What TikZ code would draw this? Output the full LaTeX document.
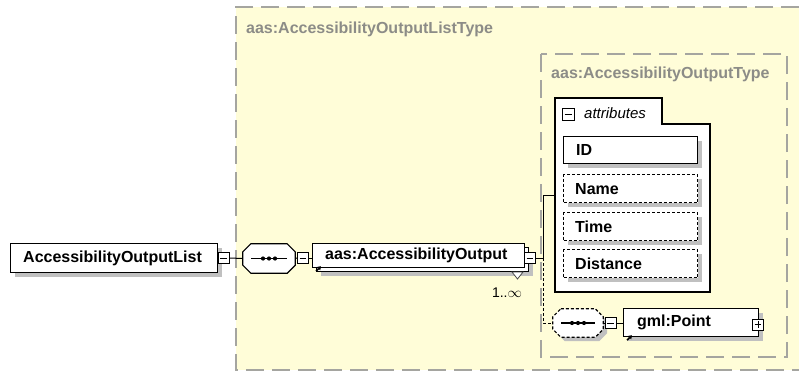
\documentclass[tikz,border=0pt]{standalone}
\usepackage{fontspec}
\setmainfont{Liberation Sans}
\usetikzlibrary{arrows.meta,shadows}

\definecolor{paper}{RGB}{255,253,216}
\definecolor{framegray}{RGB}{165,165,160}
\definecolor{labelgray}{RGB}{140,140,135}
\definecolor{shadowgray}{RGB}{192,192,192}

% octagonal outline of a compositor node (#1 = node name, #2 = path options)
\newcommand\compositoroutline[2]{%
  \path[#2] ([xshift=8pt]#1.north west) -- ([xshift=-8pt]#1.north east)
    -- ([yshift=-8pt]#1.north east) -- ([yshift=8pt]#1.south east)
    -- ([xshift=-8pt]#1.south east) -- ([xshift=8pt]#1.south west)
    -- ([yshift=8pt]#1.south west) -- ([yshift=-8pt]#1.north west) -- cycle;}
% sequence symbol: a line with three dots
\newcommand\sequencemark[2]{%
  \draw[line width=1.2pt] ([xshift=-#2]#1.center) -- ([xshift=#2]#1.center);
  \foreach \d in {-6,0,6} \fill ([xshift=\d pt]#1.center) circle (2.1pt);}

\begin{document}
\begin{tikzpicture}[x=1pt,y=-1pt,
  typeframe/.style={draw=framegray, line width=1.6pt, dash pattern=on 18pt off 8pt},
  typelabel/.style={anchor=west, inner sep=0pt, text=labelgray,
    font=\bfseries\fontsize{16}{19}\selectfont},
  shadowed/.style={drop shadow={shadow xshift=4pt, shadow yshift=-4pt,
    fill=shadowgray, opacity=1}},
  ebox/.style={draw=black, line width=1.2pt, fill=white, anchor=north west,
    inner sep=0pt, rectangle},
  optbox/.style={ebox, dash pattern=on 3pt off 2pt},
  etext/.style={anchor=west, inner sep=0pt, font=\bfseries\fontsize{16}{19}\selectfont},
  toggle/.style={draw=black, line width=0.9pt, fill=white, minimum size=11pt,
    inner sep=0pt, rectangle},
  minus/.style={toggle, path picture={\draw[line width=0.9pt]
    ([xshift=2.2pt]path picture bounding box.west) --
    ([xshift=-2.2pt]path picture bounding box.east);}},
  plus/.style={toggle, path picture={\draw[line width=0.9pt]
    ([xshift=2.2pt]path picture bounding box.west) --
    ([xshift=-2.2pt]path picture bounding box.east)
    ([yshift=2.2pt]path picture bounding box.south) --
    ([yshift=-2.2pt]path picture bounding box.north);}},
  compositor/.style={rectangle, inner sep=0pt},
  wire/.style={draw=black, line width=1pt},
  refarrow/.style={line width=1.6pt, -{Triangle[length=3.5pt,width=4.5pt]}}
]
\useasboundingbox (0,0) rectangle (799,372);

% complex type frames
\fill[paper] (236,7) rectangle (799,370);
\draw[typeframe] (799,7) -- (236,7) -- (236,370) -- (799,370);
\node[typelabel] (outerlabel) at (246,29) {aas:AccessibilityOutputListType};

\draw[typeframe] (541,54) rectangle (787,357);
\node[typelabel] (innerlabel) at (551,74) {aas:AccessibilityOutputType};

% root element
\node[ebox, shadowed, minimum width=207pt, minimum height=29pt] (list) at (10,243) {};
\node[etext] (listtext) at ([xshift=13pt]list.west) {AccessibilityOutputList};
\node[minus] (listm) at (223.5,258) {};

% sequence compositor
\node[compositor, minimum width=52pt, minimum height=29pt] (seq1) at (269,258.5) {};
\compositoroutline{seq1}{draw=black, line width=1.2pt, fill=white}
\sequencemark{seq1}{18pt}
\node[minus] (seq1m) at (303,258) {};

% repeated element (1..unbounded)
\node[ebox, shadowed, minimum width=212pt, minimum height=24pt] (outback) at (316,247) {};
\node[ebox, minimum width=212pt, minimum height=24pt] (out) at (312,243) {};
\node[etext] (outtext) at ([xshift=13pt]out.west) {aas:AccessibilityOutput};
\draw[refarrow] ([xshift=4pt,yshift=-3pt]out.south west) -- ++(5,-5);
\node[minus] (outm) at (530,258) {};
\draw[draw=black!70, line width=0.8pt, fill=white]
  (512,272) -- (523,272) -- (517.5,279) -- cycle;
\node[inner sep=0pt, font=\fontsize{14}{16}\selectfont] (card) at (507,293) {1..$\infty$};

% attribute group
\draw[line width=1.2pt, fill=white]
  (555,292) -- (555,98) -- (662,98) -- (662,124) -- (710,124) -- (710,292) -- cycle;
\coordinate (attrs) at (555,195);
\node[minus, minimum size=12pt] (attrm) at (568.5,114) {};
\node[anchor=west, inner sep=0pt, font=\itshape\fontsize{15}{18}\selectfont]
  (attrtitle) at (584,113) {attributes};

\node[ebox, shadowed, minimum width=134pt, minimum height=27pt] (id) at (563,136) {};
\node[etext] at ([xshift=13pt]id.west) {ID};
\node[optbox, shadowed, minimum width=134pt, minimum height=28pt] (name) at (563,174) {};
\node[etext] at ([xshift=12pt]name.west) {Name};
\node[optbox, shadowed, minimum width=134pt, minimum height=28pt] (time) at (563,212) {};
\node[etext] at ([xshift=12pt]time.west) {Time};
\node[optbox, shadowed, minimum width=134pt, minimum height=28pt] (dist) at (563,249) {};
\node[etext] at ([xshift=12pt]dist.west) {Distance};

% optional sequence with gml:Point
\node[compositor, minimum width=50pt, minimum height=28pt] (seq2) at (578,323) {};
\compositoroutline{seq2}{fill=shadowgray, transform canvas={shift={(4pt,-4pt)}}}
\compositoroutline{seq2}{draw=black, line width=1.2pt, fill=white, dash pattern=on 3pt off 2pt}
\sequencemark{seq2}{17pt}
\node[minus] (seq2m) at (610.5,323) {};

\node[ebox, shadowed, minimum width=135pt, minimum height=28pt] (point) at (623,308) {};
\draw[refarrow] ([xshift=4pt,yshift=-3pt]point.south west) -- ++(5,-5);
\node[etext] at ([xshift=14pt]point.west) {gml:Point};
\node[plus] (pointp) at (758,324.5) {};

% connectors
\coordinate (junction) at (543,258);
\coordinate (jtop) at (543,195);
\draw[wire] (listm.east) -- (seq1.west);
\draw[wire] (seq1.east) -- (seq1m.west);
\draw[wire] (seq1m.east) -- (out.west |- seq1m.east);
\draw[wire] (outm.east) -- (junction);
\draw[wire] (junction) -- (jtop) -- (attrs);
\draw[wire, dash pattern=on 3pt off 2pt] (junction) |- (seq2.west);
\draw[wire] (seq2.east) -- (seq2m.west);
\draw[wire] (seq2m.east) -- (point.west |- seq2m.east);
\end{tikzpicture}
\end{document}
